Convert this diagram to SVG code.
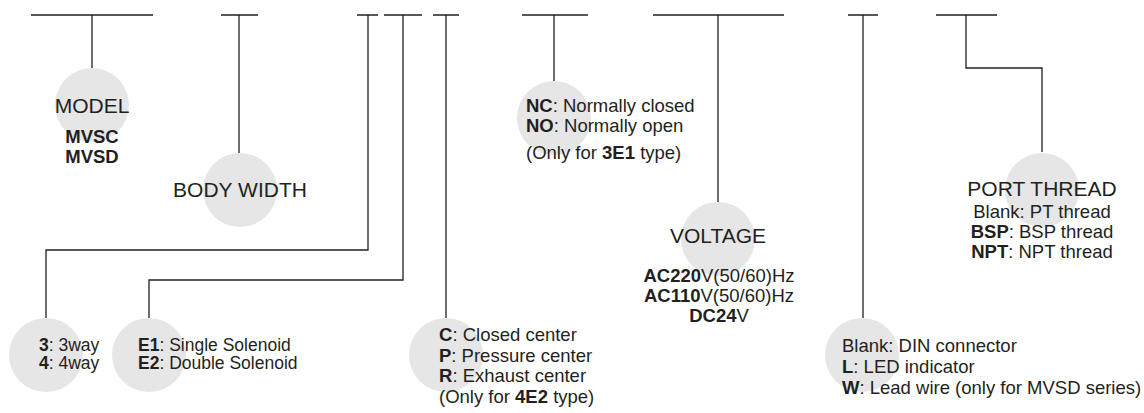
<svg xmlns="http://www.w3.org/2000/svg" width="1144" height="413" viewBox="0 0 1144 413">
<style>
.bg{fill:#ffffff}
.c{fill:#e6e6e6}
.ln{fill:none;stroke:#231f20;stroke-width:1.3}
text{font-family:"Liberation Sans",Arial,sans-serif;fill:#231f20}
.t{font-size:21px}
.o{font-size:18.5px}
.s{font-size:17.5px}
.m{text-anchor:middle}
.b{font-weight:bold}
</style>
<rect class="bg" x="0" y="0" width="1144" height="413"/>
<g id="connectors">
<path class="ln" d="M31 15H153M92 15V68"/>
<path class="ln" d="M221 15H258M239 15V153"/>
<path class="ln" d="M357 15H378M368 15V250H46V318"/>
<path class="ln" d="M384 15H422M403 15V280H149V318"/>
<path class="ln" d="M433 15H459M446 15V318"/>
<path class="ln" d="M522 15H588M554 15V81"/>
<path class="ln" d="M653 15H784M718 15V202"/>
<path class="ln" d="M848 15H878M863 15V318"/>
<path class="ln" d="M936 15H997M966 15V68H1042V152"/>
</g>
<g id="model">
<circle class="c" cx="92" cy="105" r="37"/>
<text class="t m" x="92" y="113">MODEL</text>
<text class="o m b" x="92" y="143">MVSC</text>
<text class="o m b" x="92" y="163">MVSD</text>
</g>
<g id="body-width">
<circle class="c" cx="240" cy="190" r="37"/>
<text class="t m" x="240" y="197">BODY WIDTH</text>
</g>
<g id="way">
<circle class="c" cx="46" cy="355" r="37"/>
<text class="s" x="39" y="351"><tspan class="b">3</tspan>: 3way</text>
<text class="s" x="39" y="369"><tspan class="b">4</tspan>: 4way</text>
</g>
<g id="solenoid">
<circle class="c" cx="149" cy="355" r="37"/>
<text class="s" x="138" y="351"><tspan class="b">E1</tspan>: Single Solenoid</text>
<text class="s" x="138" y="369"><tspan class="b">E2</tspan>: Double Solenoid</text>
</g>
<g id="center">
<circle class="c" cx="446" cy="355" r="37"/>
<text class="o" x="439" y="341"><tspan class="b">C</tspan>: Closed center</text>
<text class="o" x="439" y="362"><tspan class="b">P</tspan>: Pressure center</text>
<text class="o" x="439" y="382"><tspan class="b">R</tspan>: Exhaust center</text>
<text class="o" x="439" y="403">(Only for <tspan class="b">4E2</tspan> type)</text>
</g>
<g id="normal">
<circle class="c" cx="554" cy="118" r="37"/>
<text class="o" x="526" y="112"><tspan class="b">NC</tspan>: Normally closed</text>
<text class="o" x="526" y="132"><tspan class="b">NO</tspan>: Normally open</text>
<text class="o" x="526" y="159">(Only for <tspan class="b">3E1</tspan> type)</text>
</g>
<g id="voltage">
<circle class="c" cx="718" cy="239" r="37"/>
<text class="t m" x="718" y="243">VOLTAGE</text>
<text class="o m" x="719" y="282"><tspan class="b">AC220</tspan>V(50/60)Hz</text>
<text class="o m" x="719" y="302"><tspan class="b">AC110</tspan>V(50/60)Hz</text>
<text class="o m" x="719" y="322"><tspan class="b">DC24</tspan>V</text>
</g>
<g id="connector-type">
<circle class="c" cx="862" cy="355" r="37"/>
<text class="o" x="842" y="352">Blank: DIN connector</text>
<text class="o" x="842" y="373"><tspan class="b">L</tspan>: LED indicator</text>
<text class="o" x="842" y="394"><tspan class="b">W</tspan>: Lead wire (only for MVSD series)</text>
</g>
<g id="port-thread">
<circle class="c" cx="1042" cy="190" r="37"/>
<text class="t m" x="1042" y="196">PORT THREAD</text>
<text class="o m" x="1042" y="218">Blank: PT thread</text>
<text class="o m" x="1042" y="238"><tspan class="b">BSP</tspan>: BSP thread</text>
<text class="o m" x="1042" y="258"><tspan class="b">NPT</tspan>: NPT thread</text>
</g>
</svg>
